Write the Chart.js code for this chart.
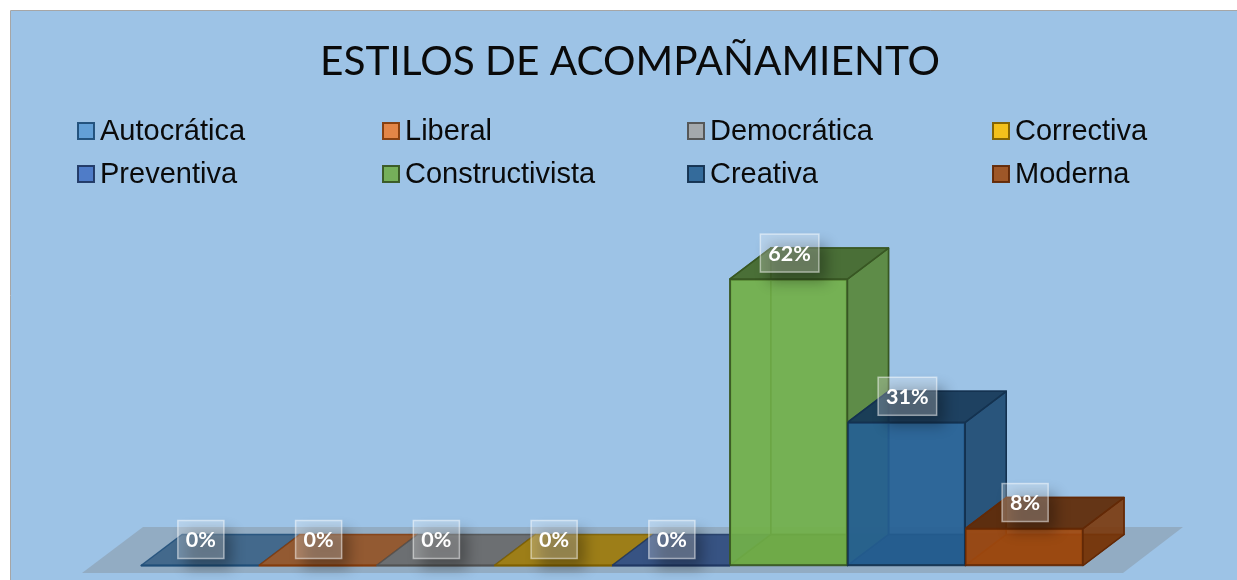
<!DOCTYPE html>
<html><head><meta charset="utf-8">
<script src="https://cdn.jsdelivr.net/npm/chart.js@4"></script>
<style>html,body{margin:0;padding:0;background:#fff;overflow:hidden}canvas{display:block}</style>
</head><body>
<canvas id="c" width="1237" height="580"></canvas>
<script>
const titleText = "ESTILOS DE ACOMPAÑAMIENTO";
const categories = ["Autocrática","Liberal","Democrática","Correctiva","Preventiva","Constructivista","Creativa","Moderna"];
const values = [0,0,0,0,0,62,31,8];
const fillRGB = [[91,155,213],[237,125,49],[165,165,165],[255,192,0],[68,114,196],[112,173,71],[37,94,145],[158,72,14]];
const edgeRGB = [[31,78,121],[132,60,12],[82,82,82],[127,96,0],[32,56,100],[56,87,35],[20,50,80],[99,41,6]];

const rgba = (c, k, a) => `rgba(${Math.round(c[0]*k)},${Math.round(c[1]*k)},${Math.round(c[2]*k)},${a})`;
const DX = 41, DY = -31;

function poly(ctx, pts, fill, stroke, lw) {
  ctx.beginPath();
  pts.forEach((p, i) => i ? ctx.lineTo(p[0], p[1]) : ctx.moveTo(p[0], p[1]));
  ctx.closePath();
  if (fill) { ctx.fillStyle = fill; ctx.fill(); }
  if (stroke) { ctx.strokeStyle = stroke; ctx.lineWidth = lw; ctx.lineJoin = 'round'; ctx.stroke(); }
}

const backdrop = {
  id: 'backdrop',
  beforeDraw(chart) {
    const ctx = chart.ctx;
    ctx.save();
    ctx.fillStyle = '#fff'; ctx.fillRect(0, 0, chart.width, chart.height);
    ctx.fillStyle = '#9DC3E6'; ctx.fillRect(11, 10, chart.width - 11, chart.height - 10);
    ctx.strokeStyle = '#A6A6A6'; ctx.lineWidth = 1;
    ctx.beginPath(); ctx.moveTo(10.5, chart.height); ctx.lineTo(10.5, 10.5); ctx.lineTo(chart.width, 10.5); ctx.stroke();
    ctx.restore();
  }
};

const titleShift = { id: 'titleShift', afterLayout(chart) { chart.titleBlock.left += 18; chart.titleBlock.right += 18; } };

const sideLegend = {
  id: 'sideLegend',
  afterDraw(chart) {
    const ctx = chart.ctx;
    ctx.save();
    ctx.font = '29px "Liberation Sans"';
    ctx.textBaseline = 'middle'; ctx.textAlign = 'left';
    categories.forEach((name, i) => {
      const col = i % 4, row = Math.floor(i / 4);
      const x = 77 + col * 305, y = 131 + row * 43;
      ctx.fillStyle = rgba(fillRGB[i], 1, 0.88);
      ctx.fillRect(x + 1, y - 8, 16, 16);
      ctx.strokeStyle = rgba(edgeRGB[i], 1, 0.95); ctx.lineWidth = 2;
      ctx.strokeRect(x + 1, y - 8, 16, 16);
      ctx.fillStyle = '#0a0a0a';
      ctx.fillText(name, x + 23, y + 1);
    });
    ctx.restore();
  }
};

const box3d = {
  id: 'box3d',
  beforeDatasetsDraw(chart) {
    const ctx = chart.ctx, bars = chart.getDatasetMeta(0).data, area = chart.chartArea;
    ctx.save();
    // floor
    const fy = area.bottom + 7.5;
    poly(ctx, [[area.left - 59, fy], [area.right + 40, fy], [area.right + 100, fy - 46], [area.left + 2, fy - 46]], 'rgba(125,125,125,0.33)');
    bars.forEach((b, i) => {
      const L = b.x - b.width / 2, R = b.x + b.width / 2, T = b.y, B = b.base;
      const f = fillRGB[i], e = rgba(edgeRGB[i], 1, 0.85);
      // floor of the box
      poly(ctx, [[L, B], [R, B], [R + DX, B + DY], [L + DX, B + DY]], rgba(f, 0.62, 0.88), e, 1.5);
      if (T < B) {
        // back wall and left wall
        poly(ctx, [[L + DX, B + DY], [R + DX, B + DY], [R + DX, T + DY], [L + DX, T + DY]], rgba(f, 0.75, 0.5), e, 1.5);
        poly(ctx, [[L, B], [L + DX, B + DY], [L + DX, T + DY], [L, T]], rgba(f, 0.75, 0.5), e, 1.5);
        // right wall
        poly(ctx, [[R, B], [R + DX, B + DY], [R + DX, T + DY], [R, T]], rgba(f, 0.78, 0.8), rgba(edgeRGB[i], 1, 1), 1.5);
        // top
        poly(ctx, [[L, T], [R, T], [R + DX, T + DY], [L + DX, T + DY]], rgba(f, 0.6, 0.88), rgba(edgeRGB[i], 1, 1), 1.5);
      }
    });
    ctx.restore();
  },
  afterDatasetsDraw(chart) {
    const ctx = chart.ctx, bars = chart.getDatasetMeta(0).data;
    ctx.save();
    // base edge of empty boxes
    bars.forEach((b, i) => {
      if (b.y >= b.base) {
        ctx.strokeStyle = rgba(edgeRGB[i], 1, 1); ctx.lineWidth = 2;
        ctx.beginPath(); ctx.moveTo(b.x - b.width / 2, b.base); ctx.lineTo(b.x + b.width / 2, b.base); ctx.stroke();
      }
    });
    // data labels
    ctx.font = 'bold 21.5px Lato';
    ctx.textAlign = 'center'; ctx.textBaseline = 'middle';
    bars.forEach((b, i) => {
      const txt = Math.round(values[i]) + '%';
      const w = ctx.measureText(txt).width + 16, h = 38;
      const cx = b.x + 1, cy = b.y - 26;
      ctx.save();
      ctx.shadowColor = 'rgba(0,0,0,0.3)'; ctx.shadowBlur = 14;
      ctx.shadowOffsetX = 5000 + 8; ctx.shadowOffsetY = 10;
      ctx.fillStyle = '#000';
      ctx.fillRect(cx - w / 2 - 5000, cy - h / 2, w, h);
      ctx.restore();
      ctx.fillStyle = 'rgba(255,255,255,0.25)';
      ctx.fillRect(cx - w / 2, cy - h / 2, w, h);
      ctx.strokeStyle = 'rgba(255,255,255,0.5)'; ctx.lineWidth = 1.5;
      ctx.strokeRect(cx - w / 2, cy - h / 2, w, h);
      ctx.fillStyle = '#fff';
      ctx.fillText(txt, cx, cy + 1);
    });
    ctx.restore();
  }
};

new Chart(document.getElementById('c'), {
  type: 'bar',
  data: {
    labels: categories,
    datasets: [{
      data: values,
      backgroundColor: fillRGB.map(c => rgba(c, 1.04, 0.85)),
      borderColor: edgeRGB.map(c => rgba(c, 1, 1)),
      borderWidth: 1.5,
      borderSkipped: false,
      barPercentage: 1,
      categoryPercentage: 1
    }]
  },
  options: {
    responsive: false,
    animation: false,
    devicePixelRatio: 1,
    layout: { padding: { left: 141, right: 154, bottom: 14.5, top: 0 } },
    scales: {
      x: { display: false },
      y: { display: false, min: 0, max: 70 }
    },
    plugins: {
      legend: { display: false },
      tooltip: { enabled: false },
      title: {
        display: true,
        text: titleText,
        color: '#0a0a0a',
        font: { family: 'Lato', size: 40.6, weight: 'normal', lineHeight: 1.2 },
        padding: { top: 38, bottom: 155.4 }
      }
    }
  },
  plugins: [backdrop, titleShift, box3d, sideLegend]
});
</script>
</body></html>
